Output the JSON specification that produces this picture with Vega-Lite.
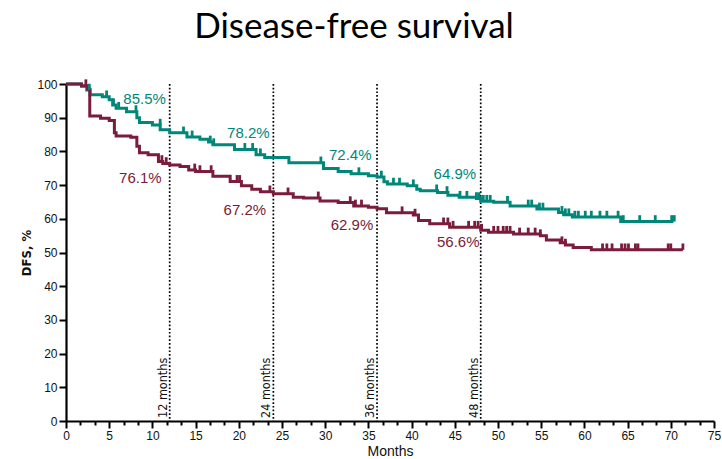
{
  "$schema": "https://vega.github.io/schema/vega-lite/v6.json",
  "width": 648,
  "height": 337,
  "autosize": {"type": "none"},
  "padding": {"left": 66, "top": 84, "right": 8, "bottom": 38},
  "background": "white",
  "title": {"text": "Disease-free survival", "font": "Lato", "fontSize": 35, "fontWeight": "normal", "color": "#000000", "anchor": "middle", "frame": "group", "dx": -36, "offset": 29},
  "config": {"view": {"stroke": null}},
  "datasets": {
    "curves": [
      {"arm": "A", "month": 0, "dfs": 100}, {"arm": "A", "month": 1.8, "dfs": 99.3}, {"arm": "A", "month": 2.4, "dfs": 98.2}, {"arm": "A", "month": 2.8, "dfs": 96.8}, {"arm": "A", "month": 4.2, "dfs": 96.2}, {"arm": "A", "month": 5.0, "dfs": 95.3}, {"arm": "A", "month": 5.4, "dfs": 93.8}, {"arm": "A", "month": 5.8, "dfs": 92.8}, {"arm": "A", "month": 7.0, "dfs": 91.8}, {"arm": "A", "month": 8.2, "dfs": 90.0}, {"arm": "A", "month": 8.5, "dfs": 88.6}, {"arm": "A", "month": 10.0, "dfs": 87.8}, {"arm": "A", "month": 10.9, "dfs": 86.4}, {"arm": "A", "month": 12.0, "dfs": 85.5}, {"arm": "A", "month": 14.0, "dfs": 84.3}, {"arm": "A", "month": 15.5, "dfs": 83.6}, {"arm": "A", "month": 16.5, "dfs": 82.8}, {"arm": "A", "month": 17.0, "dfs": 82.0}, {"arm": "A", "month": 19.5, "dfs": 80.6}, {"arm": "A", "month": 22.0, "dfs": 79.0}, {"arm": "A", "month": 23.0, "dfs": 78.2}, {"arm": "A", "month": 25.8, "dfs": 76.6}, {"arm": "A", "month": 29.8, "dfs": 74.9}, {"arm": "A", "month": 31.5, "dfs": 74.0}, {"arm": "A", "month": 33.0, "dfs": 73.4}, {"arm": "A", "month": 35.0, "dfs": 72.8}, {"arm": "A", "month": 36.0, "dfs": 72.4}, {"arm": "A", "month": 36.8, "dfs": 71.0}, {"arm": "A", "month": 37.2, "dfs": 70.3}, {"arm": "A", "month": 39.5, "dfs": 69.8}, {"arm": "A", "month": 40.6, "dfs": 68.8}, {"arm": "A", "month": 41.0, "dfs": 68.3}, {"arm": "A", "month": 43.0, "dfs": 67.8}, {"arm": "A", "month": 44.2, "dfs": 67.0}, {"arm": "A", "month": 45.5, "dfs": 66.4}, {"arm": "A", "month": 47.5, "dfs": 66.0}, {"arm": "A", "month": 48.0, "dfs": 65.2}, {"arm": "A", "month": 49.5, "dfs": 64.9}, {"arm": "A", "month": 51.4, "dfs": 63.8}, {"arm": "A", "month": 54.5, "dfs": 62.9}, {"arm": "A", "month": 57.0, "dfs": 61.9}, {"arm": "A", "month": 57.6, "dfs": 61.2}, {"arm": "A", "month": 58.6, "dfs": 60.5}, {"arm": "A", "month": 64.2, "dfs": 59.2}, {"arm": "A", "month": 70.3, "dfs": 59.2},
      {"arm": "B", "month": 0, "dfs": 100}, {"arm": "B", "month": 1.8, "dfs": 99.5}, {"arm": "B", "month": 2.5, "dfs": 98.5}, {"arm": "B", "month": 2.75, "dfs": 90.5}, {"arm": "B", "month": 4.0, "dfs": 89.8}, {"arm": "B", "month": 5.0, "dfs": 89.2}, {"arm": "B", "month": 5.6, "dfs": 85.5}, {"arm": "B", "month": 5.8, "dfs": 84.6}, {"arm": "B", "month": 7.5, "dfs": 84.2}, {"arm": "B", "month": 8.2, "dfs": 81.5}, {"arm": "B", "month": 8.5, "dfs": 79.6}, {"arm": "B", "month": 9.5, "dfs": 79.0}, {"arm": "B", "month": 10.7, "dfs": 77.0}, {"arm": "B", "month": 11.2, "dfs": 76.4}, {"arm": "B", "month": 12.0, "dfs": 76.0}, {"arm": "B", "month": 13.2, "dfs": 75.5}, {"arm": "B", "month": 14.2, "dfs": 74.5}, {"arm": "B", "month": 15.0, "dfs": 74.0}, {"arm": "B", "month": 17.0, "dfs": 72.6}, {"arm": "B", "month": 19.0, "dfs": 71.1}, {"arm": "B", "month": 20.3, "dfs": 69.8}, {"arm": "B", "month": 21.5, "dfs": 68.8}, {"arm": "B", "month": 22.5, "dfs": 68.0}, {"arm": "B", "month": 24.0, "dfs": 67.4}, {"arm": "B", "month": 26.3, "dfs": 66.4}, {"arm": "B", "month": 27.5, "dfs": 66.2}, {"arm": "B", "month": 29.4, "dfs": 65.3}, {"arm": "B", "month": 31.5, "dfs": 64.8}, {"arm": "B", "month": 33.3, "dfs": 63.8}, {"arm": "B", "month": 35.0, "dfs": 63.4}, {"arm": "B", "month": 36.0, "dfs": 63.0}, {"arm": "B", "month": 37.1, "dfs": 61.8}, {"arm": "B", "month": 40.2, "dfs": 61.1}, {"arm": "B", "month": 40.8, "dfs": 59.5}, {"arm": "B", "month": 42.1, "dfs": 58.5}, {"arm": "B", "month": 44.4, "dfs": 57.5}, {"arm": "B", "month": 48.0, "dfs": 56.6}, {"arm": "B", "month": 48.9, "dfs": 56.0}, {"arm": "B", "month": 51.8, "dfs": 55.5}, {"arm": "B", "month": 54.9, "dfs": 55.0}, {"arm": "B", "month": 55.6, "dfs": 53.7}, {"arm": "B", "month": 57.2, "dfs": 52.9}, {"arm": "B", "month": 57.8, "dfs": 52.2}, {"arm": "B", "month": 58.7, "dfs": 51.5}, {"arm": "B", "month": 60.8, "dfs": 50.8}, {"arm": "B", "month": 71.4, "dfs": 50.8}
    ],
    "censors": [
      {"arm": "A", "month": 2.7, "dfs": 98.2}, {"arm": "A", "month": 4.7, "dfs": 96.2}, {"arm": "A", "month": 5.5, "dfs": 93.8}, {"arm": "A", "month": 6.1, "dfs": 92.8}, {"arm": "A", "month": 8.1, "dfs": 91.8}, {"arm": "A", "month": 10.9, "dfs": 87.8}, {"arm": "A", "month": 13.6, "dfs": 85.5}, {"arm": "A", "month": 14.6, "dfs": 84.3}, {"arm": "A", "month": 16.7, "dfs": 82.8}, {"arm": "A", "month": 17.1, "dfs": 82.0}, {"arm": "A", "month": 20.7, "dfs": 80.6}, {"arm": "A", "month": 21.6, "dfs": 80.6}, {"arm": "A", "month": 22.5, "dfs": 79.0}, {"arm": "A", "month": 29.5, "dfs": 76.6}, {"arm": "A", "month": 33.9, "dfs": 73.4}, {"arm": "A", "month": 36.5, "dfs": 72.4}, {"arm": "A", "month": 37.9, "dfs": 70.3}, {"arm": "A", "month": 38.6, "dfs": 70.3}, {"arm": "A", "month": 40.2, "dfs": 69.8}, {"arm": "A", "month": 42.9, "dfs": 68.3}, {"arm": "A", "month": 44.1, "dfs": 67.8}, {"arm": "A", "month": 45.6, "dfs": 66.4}, {"arm": "A", "month": 46.4, "dfs": 66.4}, {"arm": "A", "month": 47.5, "dfs": 66.0}, {"arm": "A", "month": 47.8, "dfs": 66.0}, {"arm": "A", "month": 48.3, "dfs": 65.2}, {"arm": "A", "month": 48.7, "dfs": 65.2}, {"arm": "A", "month": 49.1, "dfs": 65.2}, {"arm": "A", "month": 51.1, "dfs": 64.9}, {"arm": "A", "month": 53.5, "dfs": 63.8}, {"arm": "A", "month": 53.9, "dfs": 63.8}, {"arm": "A", "month": 54.8, "dfs": 62.9}, {"arm": "A", "month": 55.2, "dfs": 62.9}, {"arm": "A", "month": 57.4, "dfs": 61.9}, {"arm": "A", "month": 57.8, "dfs": 61.2}, {"arm": "A", "month": 58.2, "dfs": 61.2}, {"arm": "A", "month": 58.9, "dfs": 60.5}, {"arm": "A", "month": 59.3, "dfs": 60.5}, {"arm": "A", "month": 60.1, "dfs": 60.5}, {"arm": "A", "month": 60.8, "dfs": 60.5}, {"arm": "A", "month": 61.8, "dfs": 60.5}, {"arm": "A", "month": 62.6, "dfs": 60.5}, {"arm": "A", "month": 63.9, "dfs": 60.5}, {"arm": "A", "month": 64.5, "dfs": 59.2}, {"arm": "A", "month": 66.4, "dfs": 59.2}, {"arm": "A", "month": 68.2, "dfs": 59.2}, {"arm": "A", "month": 70.1, "dfs": 59.2}, {"arm": "A", "month": 70.4, "dfs": 59.2},
      {"arm": "B", "month": 2.3, "dfs": 99.5}, {"arm": "B", "month": 11.1, "dfs": 77.0}, {"arm": "B", "month": 11.6, "dfs": 76.4}, {"arm": "B", "month": 14.9, "dfs": 74.5}, {"arm": "B", "month": 15.5, "dfs": 74.0}, {"arm": "B", "month": 16.8, "dfs": 74.0}, {"arm": "B", "month": 19.8, "dfs": 71.1}, {"arm": "B", "month": 20.1, "dfs": 71.1}, {"arm": "B", "month": 23.6, "dfs": 68.0}, {"arm": "B", "month": 25.7, "dfs": 67.4}, {"arm": "B", "month": 29.2, "dfs": 66.2}, {"arm": "B", "month": 32.9, "dfs": 64.8}, {"arm": "B", "month": 33.5, "dfs": 63.8}, {"arm": "B", "month": 34.2, "dfs": 63.8}, {"arm": "B", "month": 38.9, "dfs": 61.8}, {"arm": "B", "month": 40.4, "dfs": 61.1}, {"arm": "B", "month": 43.7, "dfs": 58.5}, {"arm": "B", "month": 44.2, "dfs": 58.5}, {"arm": "B", "month": 44.8, "dfs": 57.5}, {"arm": "B", "month": 46.6, "dfs": 57.5}, {"arm": "B", "month": 47.3, "dfs": 57.5}, {"arm": "B", "month": 47.7, "dfs": 57.5}, {"arm": "B", "month": 48.1, "dfs": 56.6}, {"arm": "B", "month": 49.5, "dfs": 56.0}, {"arm": "B", "month": 50.0, "dfs": 56.0}, {"arm": "B", "month": 50.6, "dfs": 56.0}, {"arm": "B", "month": 51.0, "dfs": 56.0}, {"arm": "B", "month": 51.4, "dfs": 56.0}, {"arm": "B", "month": 52.5, "dfs": 55.5}, {"arm": "B", "month": 53.5, "dfs": 55.5}, {"arm": "B", "month": 54.3, "dfs": 55.5}, {"arm": "B", "month": 54.9, "dfs": 55.0}, {"arm": "B", "month": 57.4, "dfs": 52.9}, {"arm": "B", "month": 57.8, "dfs": 52.2}, {"arm": "B", "month": 62.1, "dfs": 50.8}, {"arm": "B", "month": 62.6, "dfs": 50.8}, {"arm": "B", "month": 63.2, "dfs": 50.8}, {"arm": "B", "month": 64.3, "dfs": 50.8}, {"arm": "B", "month": 64.7, "dfs": 50.8}, {"arm": "B", "month": 65.1, "dfs": 50.8}, {"arm": "B", "month": 65.9, "dfs": 50.8}, {"arm": "B", "month": 66.2, "dfs": 50.8}, {"arm": "B", "month": 69.7, "dfs": 50.8}, {"arm": "B", "month": 70.0, "dfs": 50.8}, {"arm": "B", "month": 71.4, "dfs": 50.8}
    ],
    "landmarks": [
      {"month": 12, "dfs": 100}, {"month": 24, "dfs": 100}, {"month": 36, "dfs": 100}, {"month": 48, "dfs": 100}
    ],
    "landmarkLabels": [
      {"month": 12, "dfs": 0, "label": "12 months"},
      {"month": 24, "dfs": 0, "label": "24 months"},
      {"month": 36, "dfs": 0, "label": "36 months"},
      {"month": 48, "dfs": 0, "label": "48 months"}
    ],
    "rates": [
      {"arm": "A", "month": 9.1, "dfs": 95.5, "label": "85.5%"},
      {"arm": "A", "month": 21.1, "dfs": 85.5, "label": "78.2%"},
      {"arm": "A", "month": 32.9, "dfs": 78.9, "label": "72.4%"},
      {"arm": "A", "month": 45.0, "dfs": 73.3, "label": "64.9%"},
      {"arm": "B", "month": 8.6, "dfs": 72.1, "label": "76.1%"},
      {"arm": "B", "month": 20.7, "dfs": 62.6, "label": "67.2%"},
      {"arm": "B", "month": 33.1, "dfs": 58.2, "label": "62.9%"},
      {"arm": "B", "month": 45.4, "dfs": 53.1, "label": "56.6%"}
    ]
  },
  "encoding": {
    "x": {"field": "month", "type": "quantitative", "scale": {"domain": [0, 75], "nice": false, "zero": false},
      "axis": {
        "title": "Months", "titleFont": "Liberation Sans", "titleFontSize": 14, "titleFontWeight": "normal", "titleColor": "#111111", "titlePadding": 3,
        "values": [0, 1.6667, 3.3333, 5, 6.6667, 8.3333, 10, 11.6667, 13.3333, 15, 16.6667, 18.3333, 20, 21.6667, 23.3333, 25, 26.6667, 28.3333, 30, 31.6667, 33.3333, 35, 36.6667, 38.3333, 40, 41.6667, 43.3333, 45, 46.6667, 48.3333, 50, 51.6667, 53.3333, 55, 56.6667, 58.3333, 60, 61.6667, 63.3333, 65, 66.6667, 68.3333, 70, 71.6667, 73.3333, 75],
        "labelExpr": "abs(datum.value/5 - round(datum.value/5)) < 0.01 ? format(round(datum.value), 'd') : ''",
        "labelOverlap": false, "labelFont": "Liberation Sans", "labelFontSize": 12, "labelColor": "#111111", "labelPadding": 2, "labelFlush": false,
        "tickSize": {"condition": {"test": "abs(datum.value/5 - round(datum.value/5)) < 0.01", "value": 7}, "value": 4},
        "tickWidth": 2, "tickColor": "#000000", "domainColor": "#000000", "domainWidth": 2.2, "grid": false
      }},
    "y": {"field": "dfs", "type": "quantitative", "scale": {"domain": [0, 100], "nice": false},
      "axis": {
        "title": "DFS, %", "titleFont": "Liberation Sans Narrow, DejaVu Sans Condensed, sans-serif", "titleFontSize": 13, "titleFontWeight": "bold", "titleColor": "#111111", "titlePadding": 3,
        "values": [0, 10, 20, 30, 40, 50, 60, 70, 80, 90, 100],
        "labelFont": "Liberation Sans", "labelFontSize": 12, "labelColor": "#111111", "labelPadding": 2, "labelFlush": false,
        "tickSize": 7, "tickWidth": 2, "tickColor": "#000000", "domainColor": "#000000", "domainWidth": 2.2, "grid": false
      }}
  },
  "layer": [
    {
      "data": {"name": "landmarks"},
      "mark": {"type": "rule", "color": "#000000", "strokeWidth": 1.7, "strokeDash": [1.7, 2.0]},
      "encoding": {"y2": {"datum": 0}}
    },
    {
      "data": {"name": "landmarkLabels"},
      "mark": {"type": "text", "angle": 270, "align": "left", "baseline": "alphabetic", "font": "Liberation Sans Narrow, DejaVu Sans Condensed, sans-serif", "fontSize": 12.5, "color": "#111111", "xOffset": -3, "yOffset": -3},
      "encoding": {"text": {"field": "label"}}
    },
    {
      "data": {"name": "curves"},
      "mark": {"type": "line", "interpolate": "step-after", "strokeWidth": 3},
      "encoding": {
        "color": {"field": "arm", "type": "nominal", "scale": {"domain": ["A", "B"], "range": ["#00877a", "#7a1c3a"]}, "legend": null}
      }
    },
    {
      "data": {"name": "censors"},
      "mark": {"type": "point", "shape": "M0,0L0,-1", "size": 160, "filled": false, "strokeWidth": 2.8, "opacity": 1},
      "encoding": {
        "color": {"field": "arm", "type": "nominal", "legend": null}
      }
    },
    {
      "data": {"name": "rates"},
      "mark": {"type": "text", "font": "Liberation Sans", "fontSize": 15, "align": "center", "baseline": "middle"},
      "encoding": {
        "text": {"field": "label"},
        "color": {"field": "arm", "type": "nominal", "legend": null}
      }
    }
  ]
}
